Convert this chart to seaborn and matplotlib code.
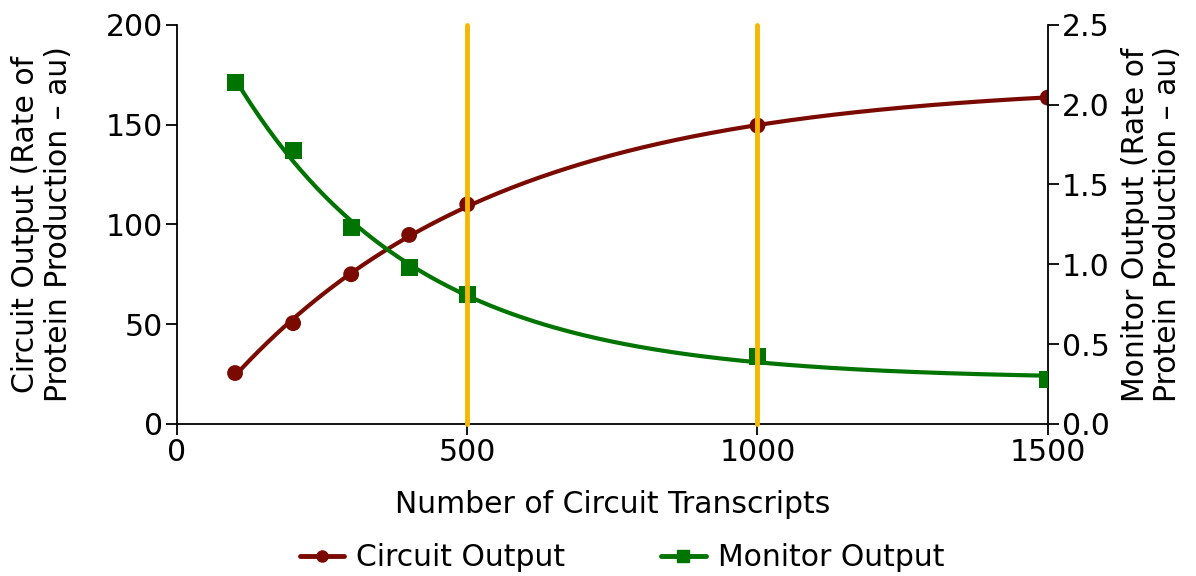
import numpy as np
import pandas as pd
import matplotlib
matplotlib.use("Agg")
import matplotlib.pyplot as plt
import seaborn as sns
from matplotlib.lines import Line2D

# data
transcripts = [100, 200, 300, 400, 500, 1000, 1500]
circuit_output = [25.5, 50.5, 75.0, 94.7, 110.0, 149.5, 163.5]
monitor_output = [2.14, 1.71, 1.23, 0.98, 0.81, 0.42, 0.28]
marker_lines = [500, 1000]

RED = '#7a0a00'
GREEN = '#007400'
ORANGE = '#f5b700'


def fit_exp(x, y):
    """Least-squares fit of y = a + b*exp(-x/c), grid search over c"""
    x = np.asarray(x, float)
    y = np.asarray(y, float)
    best = None
    for c in np.linspace(50, 2000, 3901):
        A = np.column_stack([np.ones_like(x), np.exp(-x / c)])
        coef, *_ = np.linalg.lstsq(A, y, rcond=None)
        sse = np.sum((A @ coef - y) ** 2)
        if best is None or sse < best[0]:
            best = (sse, coef, c)
    _, (a, b), c = best
    xs = np.linspace(x.min(), x.max(), 300)
    return xs, a + b * np.exp(-xs / c)


df = pd.DataFrame({'x': transcripts, 'circuit': circuit_output, 'monitor': monitor_output})

sns.set_style("ticks")
plt.rcParams['font.family'] = ['DejaVu Sans']
plt.rcParams['font.size'] = 21
for k in ('text.color', 'axes.labelcolor', 'xtick.color', 'ytick.color', 'axes.edgecolor'):
    plt.rcParams[k] = 'black'

fig = plt.figure(figsize=(11.96, 5.76), dpi=100)
ax = fig.add_axes([0.148, 0.264, 0.728, 0.693])
ax2 = ax.twinx()

xs, ys = fit_exp(df['x'], df['circuit'])
ax.plot(xs, ys, color=RED, lw=3, solid_capstyle='round', zorder=3)
sns.scatterplot(data=df, x='x', y='circuit', ax=ax, color=RED, marker='o',
                s=130, edgecolor='none', zorder=4, legend=False)

xs, ys = fit_exp(df['x'], df['monitor'])
ax2.plot(xs, ys, color=GREEN, lw=3, solid_capstyle='round', zorder=3)
sns.scatterplot(data=df, x='x', y='monitor', ax=ax2, color=GREEN, marker='s',
                s=150, edgecolor='none', zorder=4, legend=False)

for xv in marker_lines:
    ax2.plot([xv, xv], [0, 2.5], color=ORANGE, lw=3.5, solid_capstyle='round',
             zorder=6, clip_on=False)

ax.set_xlim(0, 1500)
ax.set_ylim(0, 200)
ax2.set_ylim(0, 2.5)
ax.set_xticks([0, 500, 1000, 1500])
ax.set_yticks([0, 50, 100, 150, 200])
ax2.set_yticks([0, 0.5, 1.0, 1.5, 2.0, 2.5])
ax2.set_yticklabels(['0.0', '0.5', '1.0', '1.5', '2.0', '2.5'])

for a in (ax, ax2):
    a.spines['top'].set_visible(False)
    for s in a.spines.values():
        s.set_linewidth(1.3)
    a.tick_params(width=1.3, length=8, labelsize=21.5, pad=2, colors='black')
ax2.spines['left'].set_visible(False)
ax2.spines['bottom'].set_visible(False)
ax.spines['right'].set_visible(False)

ax.set_xlabel('Number of Circuit Transcripts', fontsize=21.5, labelpad=17)
ax.set_ylabel('Circuit Output (Rate of\nProtein Production \u2013 au)', fontsize=21.5,
              labelpad=24, linespacing=1.15)
ax2.set_ylabel('Monitor Output (Rate of\nProtein Production \u2013 au)', fontsize=21.5,
               labelpad=8, linespacing=1.15)

handles = [
    Line2D([], [], color=RED, lw=3.5, marker='o', markersize=8),
    Line2D([], [], color=GREEN, lw=3.5, marker='s', markersize=8),
]
fig.legend(handles, ['Circuit Output', 'Monitor Output'], loc='lower center',
           bbox_to_anchor=(0.52, -0.04), ncol=2, frameon=False, fontsize=21.5,
           handlelength=1.5, columnspacing=3.2, handletextpad=0.4)

fig.savefig('out.png', dpi=100)
